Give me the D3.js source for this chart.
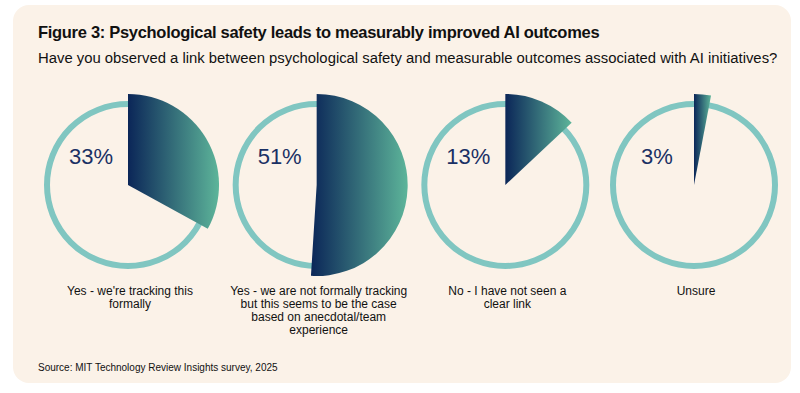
<!DOCTYPE html>
<html>
<head>
<meta charset="utf-8">
<script src="https://cdn.jsdelivr.net/npm/d3@7"></script>
<style>
  body { margin: 0; background: #ffffff; }
  svg { display: block; font-family: "Liberation Sans", Arial, sans-serif; }
</style>
</head>
<body>
<div id="chart"></div>
<script>
// data
const categories = ["yes_formal", "yes_informal", "no", "unsure"];
const percents = [33, 51, 13, 3];
const labels = [
  ["Yes - we're tracking this", "formally"],
  ["Yes - we are not formally tracking", "but this seems to be the case", "based on anecdotal/team", "experience"],
  ["No - I have not seen a", "clear link"],
  ["Unsure"]
];
const title = "Figure 3: Psychological safety leads to measurably improved AI outcomes";
const subtitle = "Have you observed a link between psychological safety and measurable outcomes associated with AI initiatives?";
const source = "Source: MIT Technology Review Insights survey, 2025";

const width = 800;
const height = 393;

const svg = d3.select("#chart")
  .append("svg")
  .attr("width", width)
  .attr("height", height);

const defs = svg.append("defs");
const grad = defs.append("linearGradient")
  .attr("id", "wedgeGrad")
  .attr("x1", "0%").attr("y1", "0%")
  .attr("x2", "100%").attr("y2", "0%");
grad.append("stop").attr("offset", "0%").attr("stop-color", "#0b2658");
grad.append("stop").attr("offset", "100%").attr("stop-color", "#5db59a");

// panel
svg.append("rect")
  .attr("x", 13).attr("y", 5)
  .attr("width", 778).attr("height", 378)
  .attr("rx", 16)
  .attr("fill", "#fbf2e8");

svg.append("text")
  .attr("x", 38).attr("y", 38)
  .attr("font-size", 16.5)
  .attr("letter-spacing", -0.3)
  .attr("font-weight", "bold")
  .attr("fill", "#111")
  .text(title);

svg.append("text")
  .attr("x", 38).attr("y", 63)
  .attr("font-size", 14.85)
  .attr("fill", "#111")
  .text(subtitle);

const x = d3.scalePoint()
  .domain(categories)
  .range([128, 694]);

const cy = 185;
const ringR = 81;
const wedgeR = 91;

const pie = d3.pie().sort(null).value(d => d);
const arc = d3.arc().innerRadius(0).outerRadius(wedgeR);

const groups = svg.selectAll("g.pie")
  .data(categories)
  .enter()
  .append("g")
  .attr("class", "pie")
  .attr("transform", d => `translate(${x(d)}, ${cy})`);

groups.append("circle")
  .attr("r", ringR)
  .attr("fill", "none")
  .attr("stroke", "#80c6c1")
  .attr("stroke-width", 6);

groups.append("path")
  .attr("d", (d, i) => arc(pie([percents[i], 100 - percents[i]])[0]))
  .attr("fill", "url(#wedgeGrad)");

groups.append("text")
  .attr("x", -37)
  .attr("y", -21)
  .attr("text-anchor", "middle")
  .attr("font-size", 22)
  .attr("fill", "#1a3064")
  .text((d, i) => percents[i] + "%");

groups.append("text")
  .attr("text-anchor", "middle")
  .attr("font-size", 12)
  .attr("fill", "#111")
  .selectAll("tspan")
  .data((d, i) => labels[i])
  .enter()
  .append("tspan")
  .attr("x", 2)
  .attr("y", (d, j) => 110 + j * 13)
  .text(d => d);

svg.append("text")
  .attr("x", 38).attr("y", 371)
  .attr("font-size", 10)
  .attr("fill", "#111")
  .text(source);
</script>
</body>
</html>
